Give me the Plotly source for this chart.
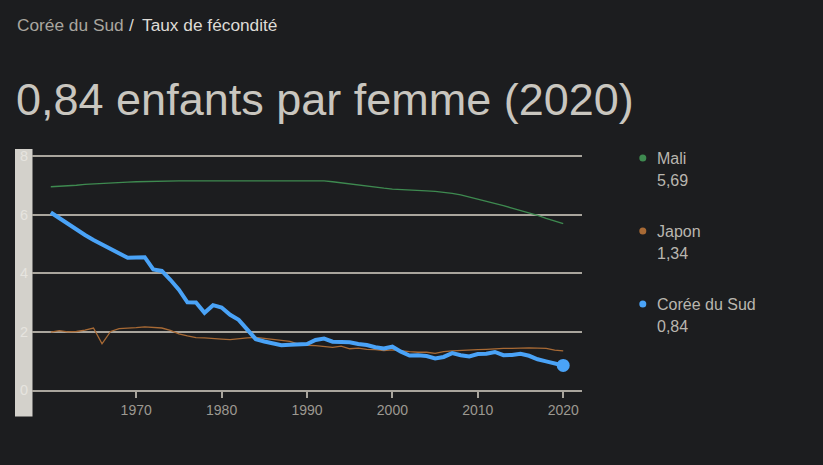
import plotly.graph_objects as go

years = list(range(1960, 2021))

korea = [6.07, 5.87, 5.68, 5.48, 5.30, 5.13, 4.97, 4.82, 4.68, 4.52,
         4.53, 4.54, 4.12, 4.07, 3.77, 3.43, 3.00, 2.99, 2.64, 2.90,
         2.82, 2.57, 2.40, 2.06, 1.74, 1.66, 1.58, 1.53, 1.55, 1.56,
         1.57, 1.71, 1.76, 1.65, 1.65, 1.63, 1.57, 1.54, 1.46, 1.42,
         1.48, 1.31, 1.18, 1.19, 1.16, 1.08, 1.13, 1.26, 1.19, 1.15,
         1.23, 1.24, 1.30, 1.19, 1.20, 1.24, 1.17, 1.05, 0.98, 0.92,
         0.84]

japan = [1.98, 2.03, 1.99, 2.00, 2.05, 2.12, 1.58, 2.00, 2.10, 2.11,
         2.13, 2.16, 2.14, 2.12, 2.04, 1.92, 1.85, 1.79, 1.78, 1.77,
         1.74, 1.72, 1.76, 1.78, 1.80, 1.76, 1.72, 1.68, 1.66, 1.57,
         1.53, 1.52, 1.50, 1.46, 1.50, 1.41, 1.43, 1.39, 1.38, 1.35,
         1.37, 1.33, 1.31, 1.29, 1.29, 1.25, 1.31, 1.34, 1.36, 1.37,
         1.38, 1.39, 1.41, 1.42, 1.42, 1.44, 1.44, 1.43, 1.42, 1.36,
         1.34]

mali = [6.95, 6.96, 6.98, 7.00, 7.03, 7.05, 7.07, 7.09, 7.10, 7.11,
        7.12, 7.13, 7.14, 7.14, 7.15, 7.15, 7.15, 7.15, 7.15, 7.15,
        7.15, 7.15, 7.15, 7.15, 7.15, 7.15, 7.15, 7.15, 7.15, 7.16,
        7.17, 7.16, 7.15, 7.12, 7.08, 7.04, 7.00, 6.96, 6.93, 6.90,
        6.87, 6.86, 6.84, 6.83, 6.81, 6.79, 6.76, 6.72, 6.67, 6.60,
        6.53, 6.46, 6.38, 6.30, 6.22, 6.14, 6.06, 5.97, 5.87, 5.78,
        5.69]

legend_names = ["Mali", "Japon", "Corée du Sud"]
legend_values = ["5,69", "1,34", "0,84"]
colors = ["#3e8a50", "#a86a35", "#4aa3f7"]

x_ticks = [1970, 1980, 1990, 2000, 2010, 2020]
y_ticks = [0, 2, 4, 6, 8]

BG = "#1c1d1f"
FONT = "Liberation Sans, Arial"
W, H = 823, 465
L, R, T, B = 32, 241, 149, 75
PW, PH = W - L - R, H - T - B

def px_x(px):
    return (px - L) / PW

def px_y(py):
    return (H - B - py) / PH

fig = go.Figure()
fig.add_trace(go.Scatter(x=years, y=mali, mode="lines",
                         line=dict(color=colors[0], width=1.3), hoverinfo="skip"))
fig.add_trace(go.Scatter(x=years, y=japan, mode="lines",
                         line=dict(color=colors[1], width=1.3), hoverinfo="skip"))
fig.add_trace(go.Scatter(x=years, y=korea, mode="lines",
                         line=dict(color=colors[2], width=4), hoverinfo="skip"))
fig.add_trace(go.Scatter(x=[years[-1]], y=[korea[-1]], mode="markers",
                         marker=dict(color=colors[2], size=13), hoverinfo="skip"))

# light band behind y tick labels
fig.add_shape(type="rect", xref="paper", yref="paper",
              x0=px_x(15), x1=px_x(32.5), y0=px_y(416.5), y1=px_y(149),
              fillcolor="#d3d1cb", line=dict(width=0), layer="below")

ann = []
# breadcrumb
ann.append(dict(text="Corée du Sud", x=px_x(14.5), y=px_y(24.5), xanchor="left", yanchor="middle",
                font=dict(family=FONT, size=17.3, color="#a9a69f")))
ann.append(dict(text="/", x=px_x(126.5), y=px_y(24.5), xanchor="left", yanchor="middle",
                font=dict(family=FONT, size=17.3, color="#dedbd6")))
ann.append(dict(text="Taux de fécondité", x=px_x(139.5), y=px_y(24.5), xanchor="left", yanchor="middle",
                font=dict(family=FONT, size=17.3, color="#dedbd6")))
# big title
ann.append(dict(text="0,84 enfants par femme (2020)", x=px_x(14), y=px_y(99),
                xanchor="left", yanchor="middle",
                font=dict(family=FONT, size=45, color="#c9c6bf")))
# custom legend
for i, (nm, val) in enumerate(zip(legend_names, legend_values)):
    cy = 158 + 73 * i
    ann.append(dict(text=nm, x=px_x(655), y=px_y(cy), xanchor="left", yanchor="middle",
                    font=dict(family=FONT, size=16, color="#b9b6af")))
    ann.append(dict(text=val, x=px_x(655), y=px_y(cy + 22), xanchor="left", yanchor="middle",
                    font=dict(family=FONT, size=16, color="#b9b6af")))
    fig.add_shape(type="circle", xref="paper", yref="paper",
                  x0=px_x(639.3), x1=px_x(646.3), y0=px_y(cy + 3.5), y1=px_y(cy - 3.5),
                  fillcolor=colors[i], line=dict(width=0))
for a in ann:
    a.update(xref="paper", yref="paper", showarrow=False)

fig.update_layout(
    width=W, height=H,
    margin=dict(l=L, r=R, t=T, b=B, pad=0),
    paper_bgcolor=BG, plot_bgcolor=BG,
    showlegend=False,
    annotations=ann,
    xaxis=dict(range=[1957.8, 2022.2], tickvals=x_ticks, ticktext=[str(t) for t in x_ticks],
               showgrid=False, zeroline=False, showline=True, linecolor="#a9a59d", linewidth=1.5,
               ticks="outside", ticklen=6, tickwidth=1.5, tickcolor="#a9a59d",
               tickfont=dict(family=FONT, size=14, color="#9c9991")),
    yaxis=dict(range=[0, 8.24], tickvals=y_ticks, ticktext=[str(t) for t in y_ticks],
               showgrid=True, gridcolor="#a9a59d", gridwidth=1.5, zeroline=False,
               showline=False, ticks="", ticklabelstandoff=3,
               tickfont=dict(family=FONT, size=14.5, color="#e6e4df")),
)

fig.write_html("out.html", config={"displayModeBar": False},
               post_script="document.body.style.margin='0';document.body.style.overflow='hidden';")
